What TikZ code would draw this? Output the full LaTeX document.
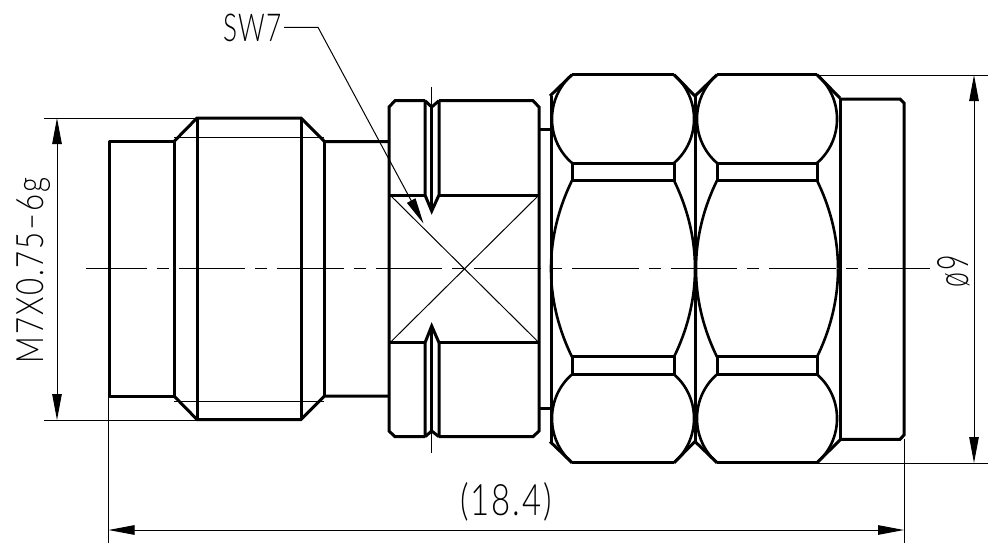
\documentclass[tikz,border=0pt]{standalone}
\usepackage{fontspec}
\usepackage{graphicx}
\setmainfont{Lato Light}[LetterSpace=6]
\usetikzlibrary{arrows.meta}
\tikzset{
  outline/.style={line width=3pt,line join=miter,line cap=butt},
  bulge/.style={line width=2.6pt},
  thinline/.style={line width=1pt},
  centreline/.style={line width=1pt,dash pattern=on 66.7pt off 10pt on 11.7pt off 10pt,dash phase=5.7pt},
  dimension/.style={line width=1pt,{Triangle[length=26pt,width=9.5pt]}-{Triangle[length=26pt,width=9.5pt]}},
  label/.style={inner sep=0pt,outer sep=0pt}
}
\newcommand{\nutbulb}[2]{% left x offset, right x
  \draw[outline] (#1+21,74.7) -- (#2,74.7);
  \draw[bulge] (#1+21,74.7) .. controls (#1-5.7,98) and (#1-5.7,140) .. (#1+21,163);
  \draw[bulge] (#2,74.7) .. controls (#2+26.7,98) and (#2+26.7,140) .. (#2,163);
  \draw[outline] (#1+21,163) rectangle (#2,180.5);
  \draw[bulge] (#1+21,180.5) .. controls (#1+9,205) and (#1,235) .. (#1,268.7);
  \draw[bulge] (#2,180.5) .. controls (#2+12,205) and (#2+21,235) .. (#2+21,268.7);
}
\begin{document}
\begin{tikzpicture}[x=1pt,y=-1pt]
\useasboundingbox (0,0) rectangle (995,554);
\fill[white] (0,0) rectangle (995,554);

% named free ends
\coordinate (tl1) at (44,118);   \coordinate (tl2) at (197,118);
\coordinate (bl1) at (44,420);   \coordinate (bl2) at (197,420);
\coordinate (dimLa) at (57,118); \coordinate (dimLb) at (57,420);
\coordinate (tr1) at (817,75);   \coordinate (tr2) at (988,75);
\coordinate (br1) at (817,463);  \coordinate (br2) at (988,463);
\coordinate (dimRa) at (974,75); \coordinate (dimRb) at (974,463);
\coordinate (el1) at (108.5,396); \coordinate (el2) at (108.5,543);
\coordinate (er1) at (904,439);  \coordinate (er2) at (904,543);
\coordinate (dimBa) at (108.5,530); \coordinate (dimBb) at (904,530);
\coordinate (cl1) at (86,268.7); \coordinate (cl2) at (930,268.7);
\coordinate (lead1) at (284,27.3); \coordinate (lead2) at (318,27.3);
\coordinate (leadTip) at (423.5,223.5);

% left threaded part
\draw[outline,line join=round] (174,396) -- (109,396) -- (109,141.5) -- (174,141.5);
\draw[outline] (174,141.5) -- (174,396);
\draw[outline] (174,141.5) -- (197,118) -- (301,118) -- (324.5,141.5) -- (389,141.5);
\draw[outline] (174,396) -- (197,419.5) -- (301,419.5) -- (324.5,396) -- (389,396);
\draw[outline] (197,118) -- (197,419.5);
\draw[outline] (301,118) -- (301,419.5);
\draw[outline] (324.5,141.5) -- (324.5,396);
\draw[thinline] (174,137) -- (324,137);
\draw[thinline] (174,401) -- (324,401);

% hex collar
\draw[outline] (425,100.7) -- (395,100.7) -- (389,107) -- (389,431) -- (395,436.7) -- (425,436.7);
\draw[outline] (439,100.7) -- (533,100.7) -- (539,107) -- (539,431) -- (533,436.7) -- (439,436.7);
\draw[outline] (425,100.7) -- (431.7,107) -- (439,100.7);
\draw[outline] (425,436.7) -- (431.7,431) -- (439,436.7);
\draw[outline] (425,100.7) -- (425,195) -- (431.7,211) -- (439,195) -- (439,100.7);
\draw[outline] (425,436.7) -- (425,342.7) -- (431.7,326) -- (439,342.7) -- (439,436.7);
\draw[outline] (431.7,107) -- (431.7,208);
\draw[outline] (431.7,431) -- (431.7,330);
\draw[outline] (389,195) -- (425,195) (439,195) -- (539,195);
\draw[outline] (389,342.7) -- (425,342.7) (439,342.7) -- (539,342.7);
\draw[thinline] (390,195) -- (539,342.7);
\draw[thinline] (539,195) -- (390,342.7);
\draw[thinline] (431.5,87) -- (431.5,105);
\draw[thinline] (431.5,433) -- (431.5,452.7);
\draw[outline] (539,129) -- (551,129);
\draw[outline] (539,408) -- (551,408);

% nuts
\draw[outline] (551,96) -- (551,441.5);
\draw[outline] (695,96) -- (695,441.5);
\draw[outline] (840,98) -- (840,440);
\draw[outline] (550,96) -- (572,74.7) (674,74.7) -- (695,96) -- (717,74.7) (817,74.7) -- (840,98);
\draw[outline] (550,441.5) -- (572,462.7) (674,462.7) -- (695,441.5) -- (717,462.7) (817,462.7) -- (840,440);
\nutbulb{551}{674}
\nutbulb{696}{817}
\begin{scope}[yshift=-537.4pt,yscale=-1]
\nutbulb{551}{674}
\nutbulb{696}{817}
\end{scope}

% right end
\draw[outline] (840,99) -- (900,99) -- (904,103) -- (904,435) -- (900,439.3) -- (840,439.3);

% centre line
\draw[centreline] (cl1) -- (cl2);

% extension lines
\draw[thinline] (tl1) -- (tl2);
\draw[thinline] (bl1) -- (bl2);
\draw[thinline] (tr1) -- (tr2);
\draw[thinline] (br1) -- (br2);
\draw[thinline] (el1) -- (el2);
\draw[thinline] (er1) -- (er2);

% dimensions
\draw[dimension] (dimLa) -- (dimLb);
\draw[dimension] (dimRa) -- (dimRb);
\draw[dimension] (dimBa) -- (dimBb);

% leader
\draw[thinline,-{Triangle[length=26pt,width=9.5pt]}] (lead1) -- (lead2) -- (leadTip);

% texts
\node[label,anchor=base west] (sw) at (223,41.5) {\resizebox{59pt}{27.5pt}{SW7}};
\node[label,anchor=base west] (len) at (460,515) {\resizebox{92pt}{33pt}{(18.4)}};
\node[label,anchor=base west,rotate=90] (thread) at (43,363) {\resizebox{185pt}{27pt}{M7X0.75–6g}};
\node[label,anchor=base west,rotate=90] (dia) at (968,287) {\resizebox{32pt}{31pt}{ø9}};
\end{tikzpicture}
\end{document}
